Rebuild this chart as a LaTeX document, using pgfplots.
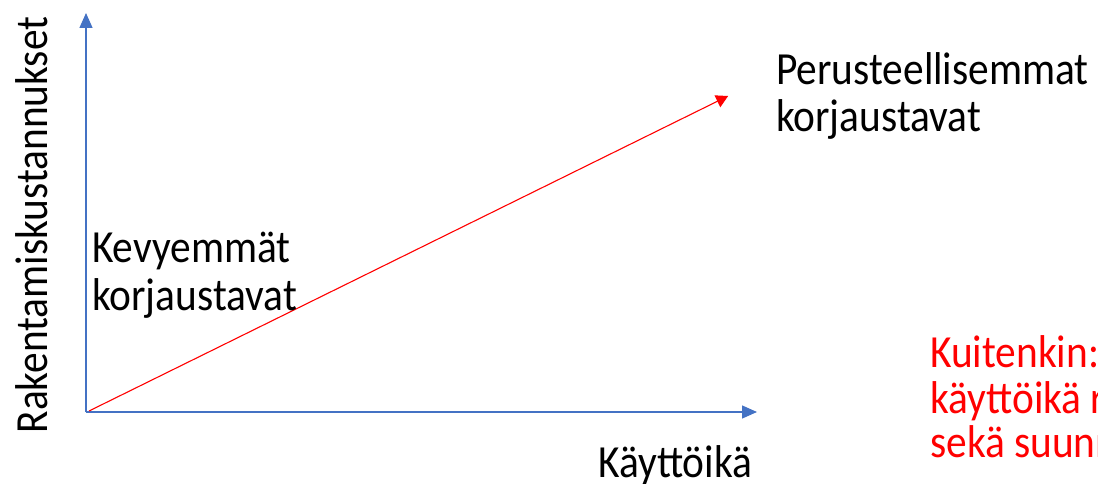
\documentclass[border=0pt]{standalone}
\usepackage{pgfplots}
\pgfplotsset{compat=1.18}
\usepackage{fontspec}
\setmainfont[FakeStretch=0.9]{Carlito}
\usetikzlibrary{arrows.meta}
\definecolor{axisblue}{HTML}{4472C4}
\begin{document}
\begin{tikzpicture}[x=1pt,y=1pt]
\path[use as bounding box, clip] (0,0) rectangle (1098,483);
\begin{axis}[
  at={(86pt,71pt)}, anchor=origin,
  scale only axis, width=671pt, height=399pt,
  xmin=0, xmax=1, ymin=0, ymax=1,
  axis lines=left,
  xtick=\empty, ytick=\empty,
  axis line style={draw=axisblue, line width=1.4pt},
  x axis line style={-{Triangle[width=13pt,length=15pt]}},
  y axis line style={-{Triangle[width=13pt,length=15pt]}},
  clip=false,
]
\addplot[red, line width=1.1pt, -{Triangle[width=13pt,length=12pt]}] coordinates {(0.0045,0.0025) (0.957,0.792)};
\end{axis}
\fontsize{46pt}{48pt}\selectfont
\node[rotate=90, anchor=base, inner sep=0pt] at (47,258) {Rakentamiskustannukset};
\node[anchor=base west, inner sep=0pt] at (776,398) {Perusteellisemmat};
\node[anchor=base west, inner sep=0pt] at (776,351) {korjaustavat};
\node[anchor=base west, inner sep=0pt] at (92,221) {Kevyemmät};
\node[anchor=base west, inner sep=0pt] at (92,173) {korjaustavat};
\node[anchor=base west, inner sep=0pt] at (598,6) {Käyttöikä};
\node[anchor=base west, inner sep=0pt, text=red] at (930,116) {Kuitenkin:};
\node[anchor=base west, inner sep=0pt, text=red] at (930,70) {käyttöikä riippuu};
\node[anchor=base west, inner sep=0pt, text=red] at (930,26) {sekä suunnittelusta};
\end{tikzpicture}
\end{document}
